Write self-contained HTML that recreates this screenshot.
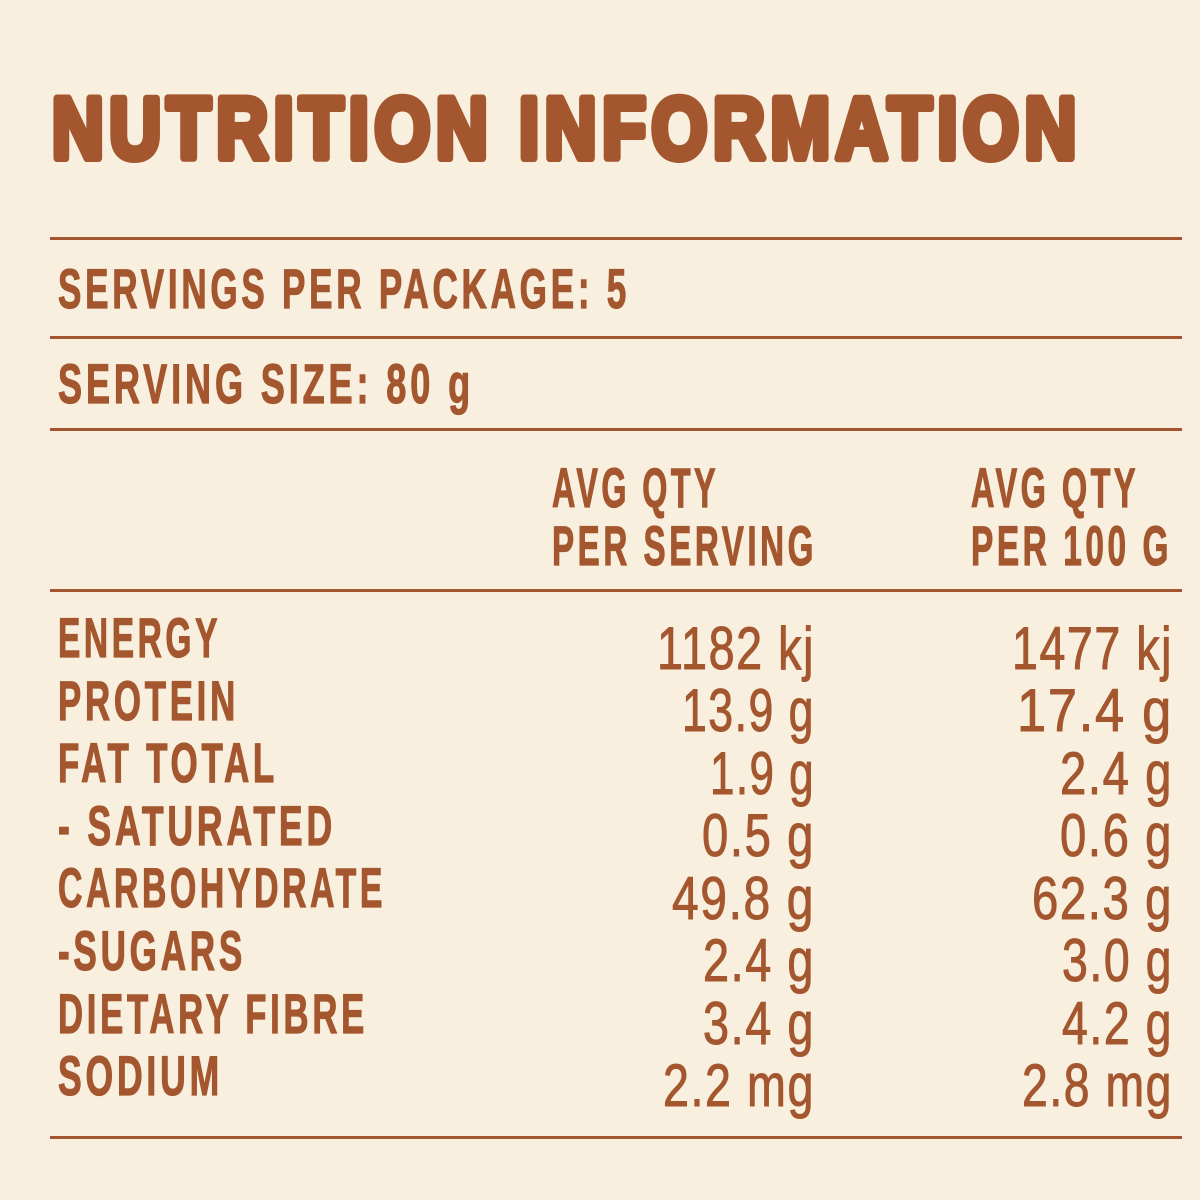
<!DOCTYPE html>
<html>
<head>
<meta charset="utf-8">
<style>
  html,body{margin:0;padding:0;background:#f8efdf;}
  svg{display:block;}
  .t{font-family:"Liberation Sans",sans-serif;font-weight:bold;fill:#a4572e;stroke:#a4572e;stroke-width:8;stroke-linejoin:round;letter-spacing:7px;}
  .l{font-family:"Liberation Sans",sans-serif;font-weight:bold;fill:#a4572e;stroke:#a4572e;stroke-width:1.2;font-size:56px;letter-spacing:6px;}
  .v{font-family:"Liberation Sans",sans-serif;font-weight:normal;fill:#a4572e;stroke:#a4572e;stroke-width:1;font-size:60px;letter-spacing:2px;}
  line{stroke:#a4572e;stroke-width:3;}
</style>
</head>
<body>
<svg width="1200" height="1200" viewBox="0 0 1200 1200" xmlns="http://www.w3.org/2000/svg">
  <rect x="0" y="0" width="1200" height="1200" fill="#f8efdf"/>

  <text class="t" x="52" y="158" font-size="86" textLength="1030" lengthAdjust="spacingAndGlyphs">NUTRITION INFORMATION</text>

  <line x1="50" y1="238.5" x2="1182" y2="238.5"/>
  <text class="l" x="58" y="308" textLength="572" lengthAdjust="spacingAndGlyphs">SERVINGS PER PACKAGE: 5</text>
  <line x1="50" y1="337.5" x2="1182" y2="337.5"/>
  <text class="l" x="58" y="403" textLength="416" lengthAdjust="spacingAndGlyphs">SERVING SIZE: 80 g</text>
  <line x1="50" y1="429.5" x2="1182" y2="429.5"/>

  <text class="l" x="552" y="507" textLength="167" lengthAdjust="spacingAndGlyphs">AVG QTY</text>
  <text class="l" x="552" y="565" textLength="265" lengthAdjust="spacingAndGlyphs">PER SERVING</text>
  <text class="l" x="971" y="507" textLength="168" lengthAdjust="spacingAndGlyphs">AVG QTY</text>
  <text class="l" x="971" y="565" textLength="201" lengthAdjust="spacingAndGlyphs">PER 100 G</text>
  <line x1="50" y1="590.5" x2="1182" y2="590.5"/>

  <text class="l" x="58" y="657" textLength="163" lengthAdjust="spacingAndGlyphs">ENERGY</text>
  <text class="l" x="58" y="720" textLength="181" lengthAdjust="spacingAndGlyphs">PROTEIN</text>
  <text class="l" x="58" y="782" textLength="220" lengthAdjust="spacingAndGlyphs">FAT TOTAL</text>
  <text class="l" x="58" y="845" textLength="278" lengthAdjust="spacingAndGlyphs">- SATURATED</text>
  <text class="l" x="58" y="907" textLength="328" lengthAdjust="spacingAndGlyphs">CARBOHYDRATE</text>
  <text class="l" x="58" y="970" textLength="188" lengthAdjust="spacingAndGlyphs">-SUGARS</text>
  <text class="l" x="58" y="1033" textLength="310" lengthAdjust="spacingAndGlyphs">DIETARY FIBRE</text>
  <text class="l" x="58" y="1095" textLength="165" lengthAdjust="spacingAndGlyphs">SODIUM</text>

  <text class="v" x="657" y="669" textLength="158" lengthAdjust="spacingAndGlyphs">1182 kj</text>
  <text class="v" x="682" y="731" textLength="133" lengthAdjust="spacingAndGlyphs">13.9 g</text>
  <text class="v" x="710" y="794" textLength="105" lengthAdjust="spacingAndGlyphs">1.9 g</text>
  <text class="v" x="702" y="856" textLength="113" lengthAdjust="spacingAndGlyphs">0.5 g</text>
  <text class="v" x="672" y="919" textLength="143" lengthAdjust="spacingAndGlyphs">49.8 g</text>
  <text class="v" x="703" y="981" textLength="112" lengthAdjust="spacingAndGlyphs">2.4 g</text>
  <text class="v" x="703" y="1044" textLength="112" lengthAdjust="spacingAndGlyphs">3.4 g</text>
  <text class="v" x="663" y="1106" textLength="152" lengthAdjust="spacingAndGlyphs">2.2 mg</text>

  <text class="v" x="1012" y="669" textLength="161" lengthAdjust="spacingAndGlyphs">1477 kj</text>
  <text class="v" x="1017" y="731" textLength="156" lengthAdjust="spacingAndGlyphs">17.4 g</text>
  <text class="v" x="1060" y="794" textLength="113" lengthAdjust="spacingAndGlyphs">2.4 g</text>
  <text class="v" x="1060" y="856" textLength="113" lengthAdjust="spacingAndGlyphs">0.6 g</text>
  <text class="v" x="1032" y="919" textLength="141" lengthAdjust="spacingAndGlyphs">62.3 g</text>
  <text class="v" x="1062" y="981" textLength="111" lengthAdjust="spacingAndGlyphs">3.0 g</text>
  <text class="v" x="1062" y="1044" textLength="111" lengthAdjust="spacingAndGlyphs">4.2 g</text>
  <text class="v" x="1022" y="1106" textLength="151" lengthAdjust="spacingAndGlyphs">2.8 mg</text>

  <line x1="50" y1="1137.5" x2="1182" y2="1137.5"/>
</svg>
</body>
</html>
